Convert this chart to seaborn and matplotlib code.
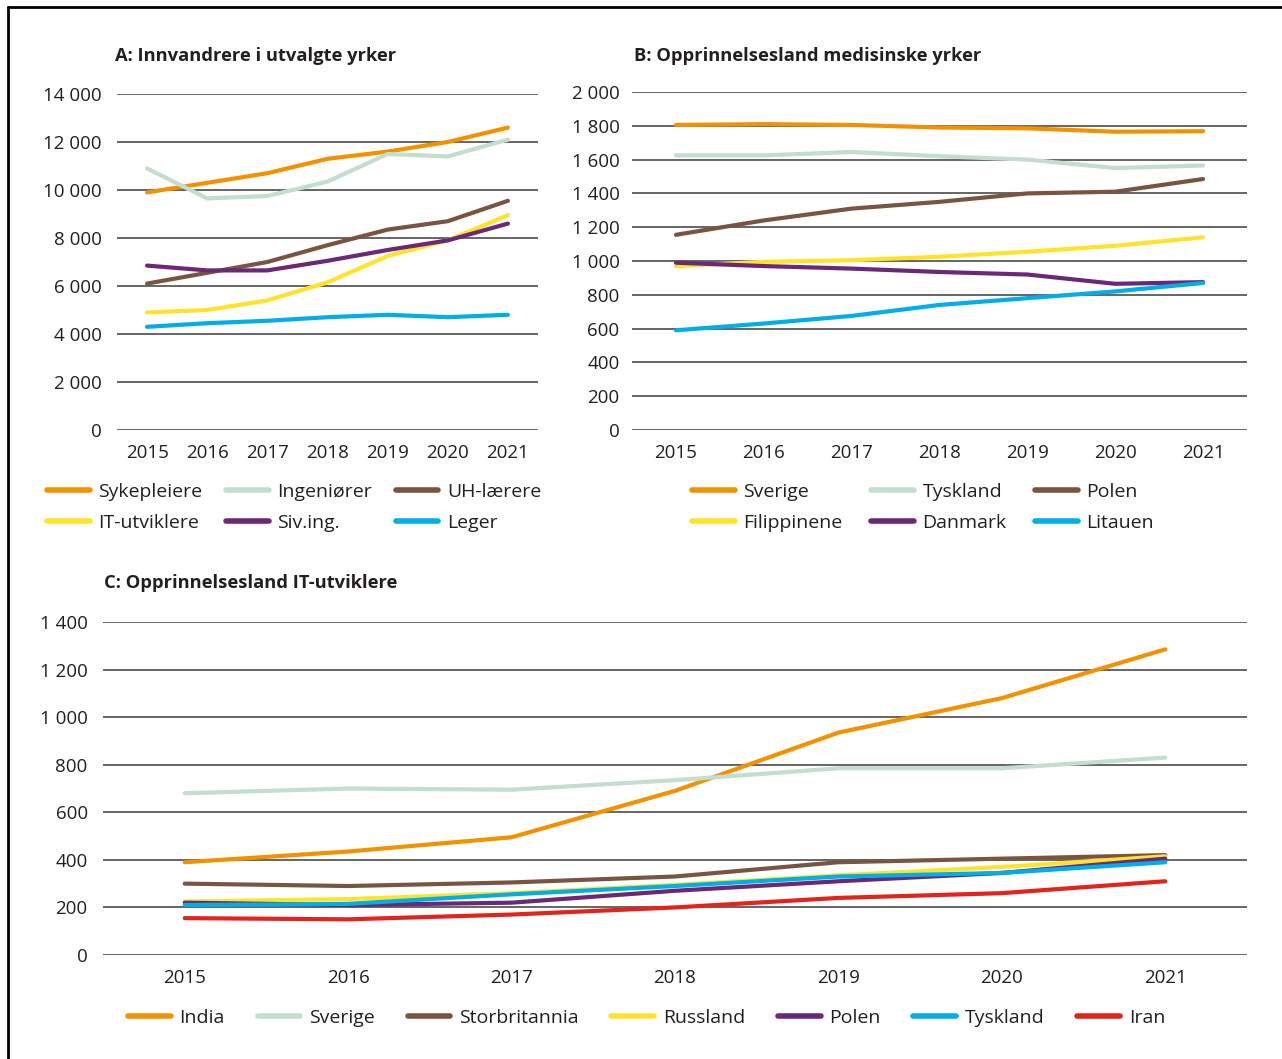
import numpy as np
import pandas as pd
import matplotlib
matplotlib.use("Agg")
import matplotlib.pyplot as plt
from matplotlib.lines import Line2D
from matplotlib.ticker import FuncFormatter
import seaborn as sns

# ---- data ----
years = [2015, 2016, 2017, 2018, 2019, 2020, 2021]

# A: Innvandrere i utvalgte yrker
sykepleiere = [9900, 10300, 10700, 11300, 11600, 12000, 12600]
ingeniorer = [10900, 9650, 9750, 10350, 11500, 11400, 12100]
uh_larere = [6100, 6550, 7000, 7700, 8350, 8700, 9550]
it_utviklere = [4900, 5000, 5400, 6150, 7250, 7900, 8950]
siv_ing = [6850, 6650, 6650, 7050, 7500, 7900, 8600]
leger = [4300, 4450, 4550, 4700, 4800, 4700, 4800]

# B: Opprinnelsesland medisinske yrker
b_sverige = [1805, 1810, 1805, 1790, 1785, 1765, 1768]
b_tyskland = [1625, 1625, 1645, 1620, 1600, 1550, 1565]
b_polen = [1155, 1240, 1310, 1350, 1400, 1410, 1485]
b_filippinene = [970, 995, 1005, 1025, 1055, 1090, 1140]
b_danmark = [990, 970, 955, 935, 920, 865, 875]
b_litauen = [590, 630, 675, 740, 780, 820, 870]

# C: Opprinnelsesland IT-utviklere
c_india = [390, 435, 495, 690, 935, 1080, 1285]
c_sverige = [680, 700, 695, 735, 785, 785, 830]
c_storbritannia = [300, 290, 305, 330, 390, 405, 420]
c_russland = [225, 235, 260, 295, 335, 370, 415]
c_polen = [220, 210, 220, 270, 310, 345, 405]
c_tyskland = [210, 215, 255, 290, 330, 345, 390]
c_iran = [155, 150, 170, 200, 240, 260, 310]

ORANGE = "#F39200"
MINT = "#C3DDCE"
BROWN = "#7A5443"
YELLOW = "#FFE32B"
PURPLE = "#6A2877"
BLUE = "#00AEE8"
RED = "#E3241B"

panel_a = {"Sykepleiere": sykepleiere, "Ingeniører": ingeniorer, "UH-lærere": uh_larere,
           "IT-utviklere": it_utviklere, "Siv.ing.": siv_ing, "Leger": leger}
colors_a = [ORANGE, MINT, BROWN, YELLOW, PURPLE, BLUE]

panel_b = {"Sverige": b_sverige, "Tyskland": b_tyskland, "Polen": b_polen,
           "Filippinene": b_filippinene, "Danmark": b_danmark, "Litauen": b_litauen}
colors_b = [ORANGE, MINT, BROWN, YELLOW, PURPLE, BLUE]

panel_c = {"India": c_india, "Sverige": c_sverige, "Storbritannia": c_storbritannia,
           "Russland": c_russland, "Polen": c_polen, "Tyskland": c_tyskland, "Iran": c_iran}
colors_c = [ORANGE, MINT, BROWN, YELLOW, PURPLE, BLUE, RED]

sns.set_theme(style="white")
plt.rcParams["font.family"] = ["Open Sans", "DejaVu Sans"]
TXT = "#231F20"

W, H = 1282, 1059
fig = plt.figure(figsize=(W / 100, H / 100), dpi=100)


def to_long(d):
    rows = []
    for name, vals in d.items():
        for yr, v in zip(years, vals):
            rows.append({"year": yr, "value": v, "series": name})
    return pd.DataFrame(rows)


def fmt(v, pos):
    return f"{v:,.0f}".replace(",", " ")


def draw_panel(rect, d, colors, ymax, ystep, ypad):
    ax = fig.add_axes([rect[0] / W, 1 - rect[3] / H, (rect[2] - rect[0]) / W, (rect[3] - rect[1]) / H])
    df = to_long(d)
    pal = dict(zip(d.keys(), colors))
    sns.lineplot(data=df, x="year", y="value", hue="series", hue_order=list(d.keys()),
                 palette=pal, linewidth=3.0, ax=ax, legend=False,
                 solid_capstyle="round", solid_joinstyle="round")
    ax.set_xlim(2014.5, 2021.5)
    ax.set_ylim(0, ymax)
    ax.set_yticks(np.arange(0, ymax + 1, ystep))
    ax.set_xticks(years)
    ax.yaxis.set_major_formatter(FuncFormatter(fmt))
    ax.grid(axis="y", color="#3c3c3c", linewidth=1.1)
    ax.grid(axis="x", visible=False)
    ax.set_axisbelow(True)
    for s in ax.spines.values():
        s.set_visible(False)
    ax.tick_params(axis="both", length=0, labelsize=13.5, colors=TXT)
    ax.tick_params(axis="y", pad=ypad)
    ax.tick_params(axis="x", pad=10)
    ax.set_xlabel("")
    ax.set_ylabel("")
    handles = [Line2D([], [], color=c, linewidth=4, solid_capstyle="round") for c in colors]
    return ax, handles, list(d.keys())


ax_a, h_a, l_a = draw_panel((117, 94, 538, 430), panel_a, colors_a, 14000, 2000, 11)
ax_b, h_b, l_b = draw_panel((632, 92, 1247, 430), panel_b, colors_b, 2000, 200, 9)
ax_c, h_c, l_c = draw_panel((103, 622, 1247, 955), panel_c, colors_c, 1400, 200, 11)

# titles
fig.text(115 / W, 1 - 56 / H, "A: Innvandrere i utvalgte yrker", fontsize=13.2, fontweight="bold",
         color=TXT, va="center", ha="left")
fig.text(634 / W, 1 - 56 / H, "B: Opprinnelsesland medisinske yrker", fontsize=13.2, fontweight="bold",
         color=TXT, va="center", ha="left")
fig.text(104 / W, 1 - 583 / H, "C: Opprinnelsesland IT-utviklere", fontsize=13.2, fontweight="bold",
         color=TXT, va="center", ha="left")

# legends (row-wise order for 2x3 grid)
order = [0, 3, 1, 4, 2, 5]
leg_kw = dict(frameon=False, fontsize=14, handlelength=2.2, handletextpad=0.45,
              borderpad=0, borderaxespad=0, labelspacing=0.65, labelcolor=TXT)
fig.legend([h_a[i] for i in order], [l_a[i] for i in order], ncol=3, loc="upper left",
           bbox_to_anchor=(47 / W, 1 - 483 / H), columnspacing=1.2, **leg_kw)
fig.legend([h_b[i] for i in order], [l_b[i] for i in order], ncol=3, loc="upper left",
           bbox_to_anchor=(692 / W, 1 - 483 / H), columnspacing=1.45, **leg_kw)
fig.legend(h_c, l_c, ncol=7, loc="upper left", bbox_to_anchor=(128 / W, 1 - 1009 / H),
           columnspacing=1.68, **leg_kw)

# frame: top and left edges only
fig.add_artist(Line2D([8 / W, 8 / W], [0, 1 - 7 / H], transform=fig.transFigure, color="black", linewidth=2))
fig.add_artist(Line2D([8 / W, 1], [1 - 7 / H, 1 - 7 / H], transform=fig.transFigure, color="black", linewidth=2))

fig.savefig("out.png", dpi=100)
